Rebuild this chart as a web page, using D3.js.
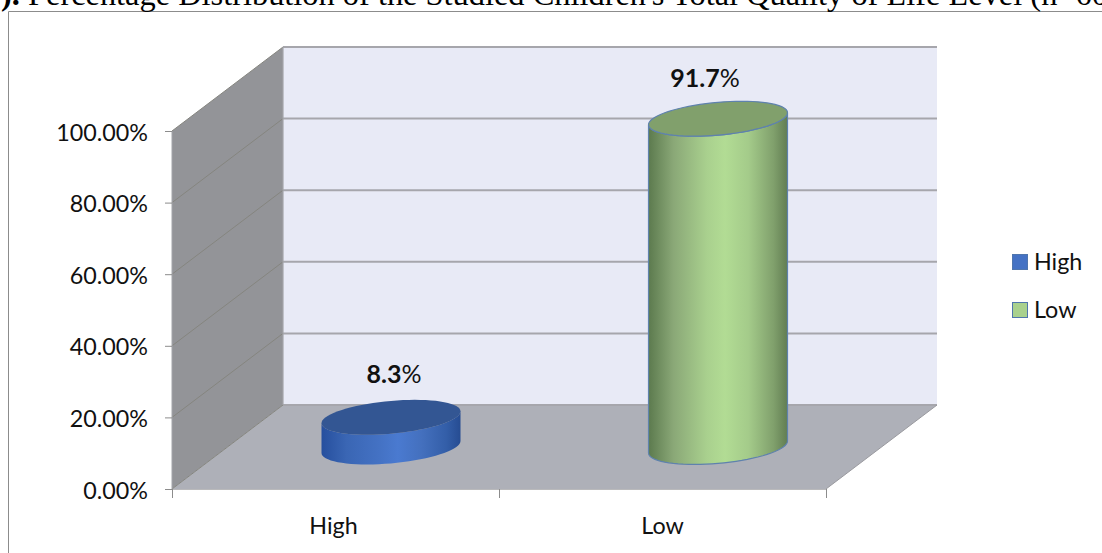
<!DOCTYPE html>
<html>
<head>
<meta charset="utf-8">
<script src="https://d3js.org/d3.v7.min.js"></script>
<style>
html,body{margin:0;padding:0;background:#fff;overflow:hidden}
svg{display:block}
text{font-family:Lato,"Open Sans",sans-serif;fill:#111}
</style>
</head>
<body>
<svg id="chart" width="1102" height="553"></svg>
<script>
const categories = ["High", "Low"];
const values = [8.3, 91.7];
const valueLabels = ["8.3", "91.7"];
const yTicks = [0, 20, 40, 60, 80, 100];
const captionLead = ").";
const captionText = " Percentage Distribution of the Studied Children's Total Quality of Life Level (n=60)";
const bodyStops = [
  ["#5c7a4e", "#264f9e", 0],
  ["#8aa877", "#3a66b4", 0.18],
  ["#a9d08e", "#4472c4", 0.42],
  ["#b2dc94", "#4a7ad0", 0.55],
  ["#a4cb8a", "#4470be", 0.72],
  ["#80a06c", "#335ea8", 0.9],
  ["#617d52", "#264c92", 1]
];
const capColors = ["#335693", "#81a06c"];
const swatchColors = ["#4472c4", "#a9d18e"];

const svg = d3.select("#chart");
const defs = svg.append("defs");

// 3D box: front plane scales, plus the depth vector towards the back wall
const x = d3.scaleBand().domain(categories).range([172, 826]);
const y = d3.scaleLinear().domain([0, 100]).range([489, 131]);
const depth = {dx: 111, dy: -84};
const gx = x.range()[0], gx2 = x.range()[1];
const backX = gx + depth.dx, backX2 = gx2 + depth.dx;
const poly = pts => "M" + pts.map(p => p.join(",")).join("L") + "Z";

// Chart frame, open on the right and bottom where it runs off the page
svg.append("path").attr("d", "M8.5,553V11.5H1102").attr("fill", "none").attr("stroke", "#8c8c8c").attr("stroke-width", 1);

// Caption line, clipped by the top of the page
const caption = svg.append("text").attr("x", 1).attr("y", 5)
  .attr("xml:space", "preserve")
  .style("font-family", "'Liberation Serif',serif").style("font-size", "32.4px").style("fill", "#000");
caption.append("tspan").style("font-weight", 700).text(captionLead);
caption.append("tspan").text(captionText);

// Back wall
svg.append("rect").attr("x", backX).attr("y", y(100) + depth.dy)
  .attr("width", backX2 - backX).attr("height", y(0) - y(100)).attr("fill", "#e8eaf6");

// Side wall
svg.append("path").attr("fill", "#939498").attr("d", poly([
  [gx, y(0)], [gx, y(100)], [backX, y(100) + depth.dy], [backX, y(0) + depth.dy]
]));

// Floor
svg.append("path").attr("fill", "#aeb0b8").attr("d", poly([
  [gx, y(0)], [gx2, y(0)], [backX2, y(0) + depth.dy], [backX, y(0) + depth.dy]
]));

// Gridlines across the back wall and down the side wall
yTicks.forEach(t => {
  svg.append("line").attr("x1", backX).attr("x2", backX2)
    .attr("y1", y(t) + depth.dy).attr("y2", y(t) + depth.dy)
    .attr("stroke", "#a6a6ac").attr("stroke-width", 2);
  svg.append("line").attr("x1", gx).attr("x2", backX)
    .attr("y1", y(t)).attr("y2", y(t) + depth.dy)
    .attr("stroke", "#85857f").attr("stroke-width", 1);
});
svg.append("line").attr("x1", backX).attr("x2", backX)
  .attr("y1", y(100) + depth.dy).attr("y2", y(0) + depth.dy)
  .attr("stroke", "#a3a4a9").attr("stroke-width", 1.2);
svg.append("line").attr("x1", gx).attr("x2", gx).attr("y1", y(100)).attr("y2", y(0))
  .attr("stroke", "#a3a4a9").attr("stroke-width", 1);
svg.append("line").attr("x1", gx2).attr("x2", backX2).attr("y1", y(0)).attr("y2", y(0) + depth.dy)
  .attr("stroke", "#9a9a9f").attr("stroke-width", 1);

// Value axis ticks and labels
yTicks.forEach(t => {
  svg.append("line").attr("x1", gx - 7).attr("x2", gx).attr("y1", y(t) + .5).attr("y2", y(t) + .5)
    .attr("stroke", "#8c8c8c");
  svg.append("text").attr("x", 148).attr("y", y(t) + 9.5)
    .attr("text-anchor", "end").style("font-size", "23.3px")
    .text(d3.format(".2f")(t) + "%");
});

// Category axis
svg.append("line").attr("x1", gx).attr("x2", gx2).attr("y1", y(0) + .5).attr("y2", y(0) + .5)
  .attr("stroke", "#b9b9bb").attr("stroke-width", 1.2);
[gx, x(categories[1]), gx2].forEach(px => {
  svg.append("line").attr("x1", px + .5).attr("x2", px + .5).attr("y1", y(0)).attr("y2", y(0) + 9)
    .attr("stroke", "#8c8c8c");
});
categories.forEach((c, i) => {
  svg.append("text").attr("x", x(c) + x.bandwidth() / 2 - (i === 0 ? 2 : 0)).attr("y", 534)
    .attr("text-anchor", "middle").style("font-size", "23.3px").text(c);
});

// Cylinders stand at mid depth on the floor
const radiusX = 69.5, skew = 6, radiusY = 16.4;
const ring = (cx, cy, t) => [cx + radiusX * Math.cos(t), cy - skew * Math.cos(t) - radiusY * Math.sin(t)];
const line = d3.line();
const angles = d3.range(0, 73).map(i => i * Math.PI / 36);
const lowerArc = d3.range(0, 37).map(i => Math.PI + i * Math.PI / 36);

categories.forEach((c, i) => {
  const cx = x(c) + x.bandwidth() / 2 + depth.dx / 2;
  const baseY = y(0) + depth.dy / 2;
  const topY = y(values[i]) + depth.dy / 2;

  const grad = defs.append("linearGradient").attr("id", "body-" + i)
    .attr("x1", 0).attr("x2", 1).attr("y1", 0).attr("y2", 0);
  bodyStops.forEach(s => grad.append("stop")
    .attr("offset", s[2]).attr("stop-color", i === 0 ? s[1] : s[0]));

  // Body outline: front arc of the top ring, side, front arc of the base ring, side
  const outline = [
    ...lowerArc.map(t => ring(cx, topY, t)),
    ...lowerArc.slice().reverse().map(t => ring(cx, baseY, t))
  ];
  const edge = i === 0 ? "none" : "#5f82ad";
  svg.append("path").attr("d", line(outline) + "Z")
    .attr("fill", `url(#body-${i})`).attr("stroke", edge).attr("stroke-width", 1.2);
  svg.append("path").attr("d", line(angles.map(t => ring(cx, topY, t))) + "Z")
    .attr("fill", capColors[i]).attr("stroke", edge).attr("stroke-width", 1.2);

  // Value label sits above the cap; the number is bold, the sign is not
  const label = svg.append("text")
    .attr("x", cx + (i === 0 ? 3 : -13))
    .attr("y", topY - (i === 0 ? 34 : 32))
    .attr("text-anchor", "middle").style("font-size", "25px");
  label.append("tspan").style("font-weight", 700).text(valueLabels[i]);
  label.append("tspan").text("%");
});

// Legend
categories.forEach((c, i) => {
  const ly = 262 + i * 48;
  svg.append("rect").attr("x", 1012.5).attr("y", ly - 7.5).attr("width", 15).attr("height", 15)
    .attr("fill", swatchColors[i]).attr("stroke", "#4f76ad").attr("stroke-width", 1);
  svg.append("text").attr("x", 1034).attr("y", ly + 8).style("font-size", "23.3px").text(c);
});
</script>
</body>
</html>
